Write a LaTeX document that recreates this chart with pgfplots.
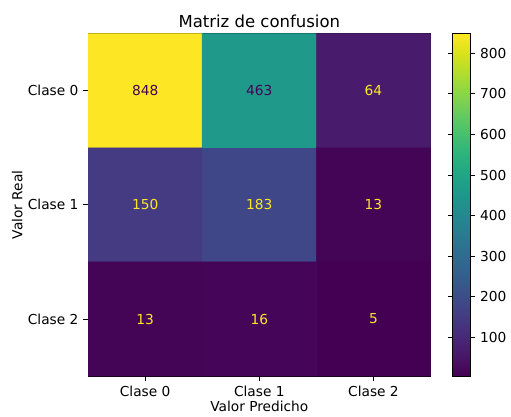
\documentclass[border=0pt]{standalone}
\usepackage{pgfplots}
\pgfplotsset{compat=1.18}
\usepackage{fontspec}
\setmainfont{DejaVu Sans}
\definecolor{vlow}{HTML}{440154}
\definecolor{vhigh}{HTML}{FDE725}
\begin{document}
\begin{tikzpicture}
\begin{axis}[
  at={(0,0)}, anchor=south west,
  width=249.12pt, height=249.12pt, scale only axis,
  colormap/viridis,
  point meta min=5, point meta max=848,
  xmin=-0.5, xmax=2.5, ymin=-0.5, ymax=2.5,
  y dir=reverse,
  xtick={0,1,2}, ytick={0,1,2},
  xticklabels={Clase 0, Clase 1, Clase 2},
  yticklabels={Clase 0, Clase 1, Clase 2},
  tick align=outside, major tick length=3.5pt,
  xtick pos=bottom, ytick pos=left,
  tick style={black, line width=0.6pt},
  axis line style={line width=0.6pt},
  tick label style={font=\fontsize{10}{12}\selectfont},
  label style={font=\fontsize{10}{12}\selectfont},
  xlabel={Valor Predicho}, ylabel={Valor Real},
  xlabel style={yshift=3.5pt},
  ylabel style={yshift=-3pt},
  title={Matriz de confusion},
  title style={font=\fontsize{12}{14}\selectfont, yshift=-5pt},
  /pgf/number format/assume math mode=true,
  colorbar,
  colorbar shift/.style={xshift=15.8pt},
  colorbar style={
    width=13pt,
    ytick={100,200,300,400,500,600,700,800},
    tick align=outside, major tick length=3.5pt,
    tick style={black, line width=0.6pt},
    axis line style={line width=0.6pt},
    yticklabel style={font=\fontsize{10}{12}\selectfont},
    /pgf/number format/assume math mode=true,
  },
]
\addplot[matrix plot*, mesh/cols=3, point meta=explicit] table[meta=C] {
x y C
0 0 848
1 0 463
2 0 64
0 1 150
1 1 183
2 1 13
0 2 13
1 2 16
2 2 5
};
\addplot[draw=none, mark=none, nodes near coords, point meta=explicit symbolic,
  nodes near coords style={anchor=center, text=vlow, font=\fontsize{10}{12}\selectfont}]
  table[meta=L] {
x y L
0 0 848
1 0 463
};
\addplot[draw=none, mark=none, nodes near coords, point meta=explicit symbolic,
  nodes near coords style={anchor=center, text=vhigh, font=\fontsize{10}{12}\selectfont}]
  table[meta=L] {
x y L
2 0 64
0 1 150
1 1 183
2 1 13
0 2 13
1 2 16
2 2 5
};
\end{axis}
\useasboundingbox (-64.08pt,-26.64pt) rectangle (303.84pt,273.6pt);
\end{tikzpicture}
\end{document}
